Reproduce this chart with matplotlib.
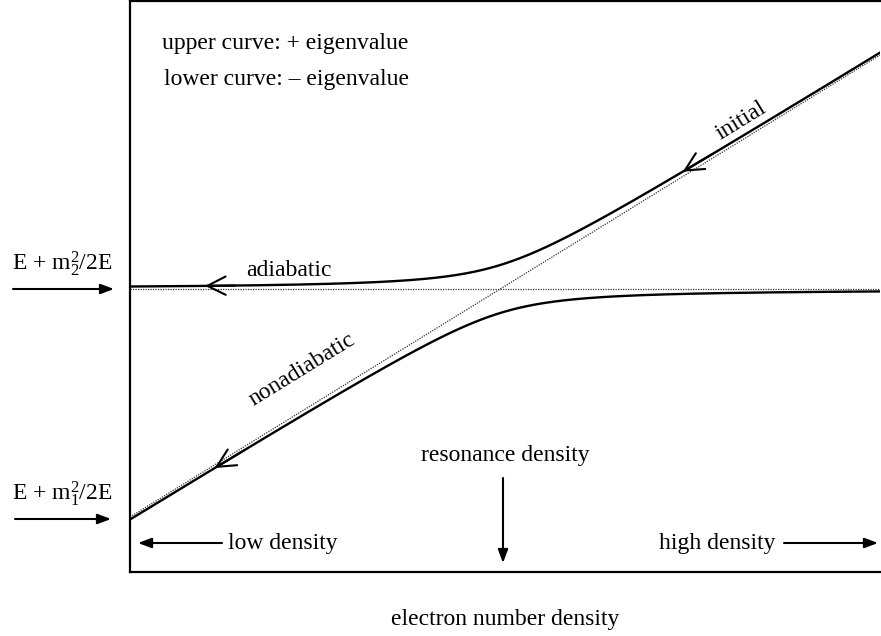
import numpy as np
import matplotlib
matplotlib.use("Agg")
import matplotlib.pyplot as plt

plt.rcParams['font.family'] = ['Liberation Serif', 'DejaVu Serif']
plt.rcParams['mathtext.fontset'] = 'custom'
plt.rcParams['mathtext.rm'] = 'Liberation Serif'
plt.rcParams['mathtext.it'] = 'Liberation Serif'

# schematic parameters (axes units 0..1)
level_m2 = 0.4956          # horizontal (m2) level
diag_start = 0.0963        # diagonal (m1 + potential) at low density
diag_slope = 0.809         # slope of the diagonal
half_gap = 0.042           # mixing term (half splitting at resonance)
x_arrow_initial = 0.737
x_arrow_adiabatic = 0.10
x_arrow_nonadiabatic = 0.113

W, H = 881, 636
fig = plt.figure(figsize=(W/100, H/100), dpi=100)
L, R, T, B = 130, 880, 1, 572
ax = fig.add_axes([L/W, (H-B)/H, (R-L)/W, (B-T)/H])
ax.set_xlim(0, 1)
ax.set_ylim(0, 1)
ax.set_xticks([]); ax.set_yticks([])
for s in ['left', 'bottom', 'top']:
    ax.spines[s].set_linewidth(1.6)
ax.spines['right'].set_visible(False)

x = np.linspace(0, 1, 600)
diag = diag_start + diag_slope * x
flat = np.full_like(x, level_m2)

def eig(xx, sign):
    a = level_m2
    b = diag_start + diag_slope * xx
    return (a + b) / 2 + sign * np.sqrt(((a - b) / 2) ** 2 + half_gap ** 2)

ax.plot(x, flat, color='#333333', lw=0.9, ls=(0, (1.0, 1.0)))
ax.plot(x, diag, color='#333333', lw=0.9, ls=(0, (1.0, 1.0)))
ax.plot(x, eig(x, +1), color='black', lw=1.7)
ax.plot(x, eig(x, -1), color='black', lw=1.7)

def curve_arrow(xa, sign):
    ya = eig(xa, sign)
    dx = 0.04
    yb = eig(xa + dx, sign)
    ax.annotate('', xy=(xa, ya), xytext=(xa + dx, yb),
                arrowprops=dict(arrowstyle='->,head_length=1.1,head_width=0.55',
                                lw=1.5, color='black', shrinkA=0, shrinkB=0,
                                mutation_scale=12))

curve_arrow(x_arrow_initial, +1)
curve_arrow(x_arrow_adiabatic, +1)
curve_arrow(x_arrow_nonadiabatic, -1)

def P(px, py):
    return (px / W, 1 - py / H)

fs = 17
fig.text(*P(285, 44), 'upper curve: + eigenvalue', ha='center', va='center', fontsize=fs)
fig.text(*P(286, 80), 'lower curve: \u2013 eigenvalue', ha='center', va='center', fontsize=fs)
fig.text(*P(741, 121), 'initial', ha='center', va='center', fontsize=fs, rotation=31.6)
fig.text(*P(289, 270), 'adiabatic', ha='center', va='center', fontsize=fs)
fig.text(*P(302, 370), 'nonadiabatic', ha='center', va='center', fontsize=fs, rotation=31.6)
fig.text(*P(505, 456), 'resonance density', ha='center', va='center', fontsize=fs)
fig.text(*P(283, 544), 'low density', ha='center', va='center', fontsize=fs)
fig.text(*P(717, 544), 'high density', ha='center', va='center', fontsize=fs)
fig.text(*P(505, 620), 'electron number density', ha='center', va='center', fontsize=fs)
fig.text(*P(62, 264), r'E + m$_2^2$/2E', ha='center', va='center', fontsize=fs)
fig.text(*P(62, 494), r'E + m$_1^2$/2E', ha='center', va='center', fontsize=fs)

def fig_arrow(p0, p1):
    fig.add_artist(matplotlib.patches.FancyArrowPatch(
        P(*p0), P(*p1), transform=fig.transFigure,
        arrowstyle='-|>,head_length=8,head_width=3', lw=1.5, color='black',
        shrinkA=0, shrinkB=0))

fig_arrow((13, 289), (114, 289))
fig_arrow((15, 519), (111, 519))
fig_arrow((222, 543), (138, 543))
fig_arrow((784, 543), (878, 543))
fig_arrow((503, 478), (503, 563))

fig.savefig('out.png', dpi=100)
